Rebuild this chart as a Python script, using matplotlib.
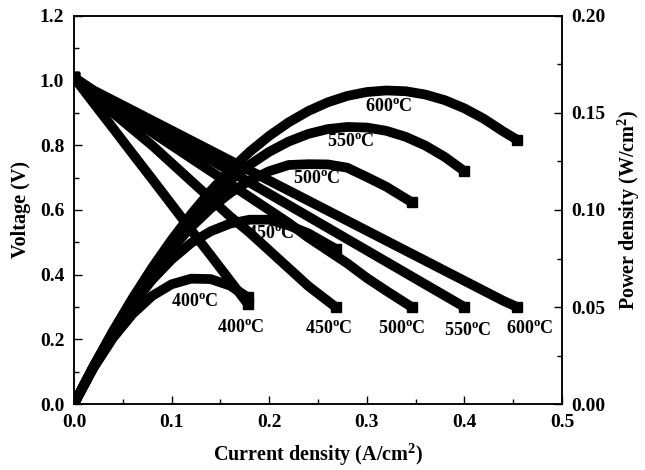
import matplotlib
matplotlib.use("Agg")

import matplotlib.pyplot as plt
from matplotlib.ticker import MultipleLocator, FormatStrFormatter

# ---------------------------------------------------------------
# Data (I-V and I-P curves)
# ---------------------------------------------------------------
i_400 = [0.0, 0.02, 0.04, 0.06, 0.08, 0.10, 0.12, 0.14, 0.16, 0.178]
v_400 = [1.01, 0.931, 0.853, 0.774, 0.696, 0.617, 0.538, 0.46, 0.381, 0.31]
p_400 = [0.0, 0.0186, 0.0341, 0.0464, 0.0557, 0.0617, 0.0646, 0.0644, 0.061, 0.055]

i_450 = [0.0, 0.02, 0.04, 0.06, 0.08, 0.10, 0.12, 0.14, 0.16, 0.18, 0.20, 0.22, 0.24, 0.268]
v_450 = [1.01, 0.95, 0.90, 0.85, 0.80, 0.745, 0.69, 0.635, 0.58, 0.53, 0.475, 0.42, 0.365, 0.30]
p_450 = [0.0, 0.019, 0.036, 0.051, 0.064, 0.0745, 0.083, 0.089, 0.093, 0.095, 0.095, 0.092, 0.088, 0.080]

i_500 = [0.0, 0.02, 0.04, 0.06, 0.08, 0.10, 0.12, 0.14, 0.16, 0.18, 0.20, 0.22, 0.24,
         0.26, 0.28, 0.30, 0.32, 0.346]
v_500 = [1.01, 0.96, 0.92, 0.88, 0.84, 0.80, 0.76, 0.72, 0.68, 0.64, 0.60, 0.56, 0.515,
         0.475, 0.435, 0.39, 0.35, 0.30]
p_500 = [0.0, 0.0192, 0.0368, 0.0528, 0.0672, 0.080, 0.0912, 0.1008, 0.1088, 0.1152, 0.120,
         0.1232, 0.1236, 0.1235, 0.1218, 0.117, 0.112, 0.104]

i_550 = [0.0, 0.02, 0.04, 0.06, 0.08, 0.10, 0.12, 0.14, 0.16, 0.18, 0.20, 0.22, 0.24,
         0.26, 0.28, 0.30, 0.32, 0.34, 0.36, 0.38, 0.40]
v_550 = [1.01, 0.965, 0.93, 0.895, 0.86, 0.825, 0.79, 0.755, 0.72, 0.685, 0.65, 0.615, 0.58,
         0.545, 0.51, 0.475, 0.44, 0.405, 0.37, 0.335, 0.30]
p_550 = [0.0, 0.0193, 0.0372, 0.0537, 0.0688, 0.0825, 0.0948, 0.1057, 0.1152, 0.1233, 0.130,
         0.1353, 0.1392, 0.1417, 0.1428, 0.1425, 0.1408, 0.1377, 0.1332, 0.1273, 0.120]

i_600 = [0.0, 0.02, 0.04, 0.06, 0.08, 0.10, 0.12, 0.14, 0.16, 0.18, 0.20, 0.22, 0.24,
         0.26, 0.28, 0.30, 0.32, 0.34, 0.36, 0.38, 0.40, 0.42, 0.44, 0.454]
v_600 = [1.01, 0.97, 0.939, 0.908, 0.877, 0.846, 0.815, 0.784, 0.753, 0.722, 0.691, 0.66, 0.629,
         0.598, 0.567, 0.536, 0.505, 0.474, 0.443, 0.412, 0.381, 0.35, 0.319, 0.30]
p_600 = [0.0, 0.0194, 0.0376, 0.0545, 0.0702, 0.0846, 0.0978, 0.1098, 0.1205, 0.130, 0.1382,
         0.1452, 0.151, 0.1555, 0.1588, 0.1608, 0.1616, 0.1612, 0.1595, 0.1566, 0.1524,
         0.147, 0.1404, 0.1362]

temps = ["400", "450", "500", "550", "600"]
currents = [i_400, i_450, i_500, i_550, i_600]
voltages = [v_400, v_450, v_500, v_550, v_600]
powers = [p_400, p_450, p_500, p_550, p_600]

# label positions in voltage-axis coordinates
v_label_pos = [(0.171, 0.238), (0.261, 0.232), (0.336, 0.232), (0.403, 0.226), (0.467, 0.232)]
p_label_pos = [(0.124, 0.318), (0.202, 0.526), (0.249, 0.696), (0.284, 0.813), (0.323, 0.919)]

plt.rcParams['font.family'] = ['Liberation Serif', 'DejaVu Serif']
plt.rcParams['font.weight'] = 'bold'
plt.rcParams['mathtext.fontset'] = 'custom'
plt.rcParams['mathtext.rm'] = 'Liberation Serif:bold'
plt.rcParams['mathtext.it'] = 'Liberation Serif:bold'
plt.rcParams['mathtext.bf'] = 'Liberation Serif:bold'

FS_TXT = 13
FS_TICK = 14
FS_LAB = 14.5
LW = 7

fig = plt.figure(figsize=(6.45, 4.70), dpi=100)
ax = fig.add_axes([0.1147, 0.1404, 0.7566, 0.8256])
ax2 = ax.twinx()

for i_arr, v_arr, p_arr in zip(currents, voltages, powers):
    ends = [0, len(i_arr) - 1]
    ax.plot(i_arr, v_arr, color='black', lw=LW, solid_capstyle='butt',
            solid_joinstyle='round', marker='s', markersize=7, markevery=ends, zorder=3)
    ax2.plot(i_arr, p_arr, color='black', lw=LW, solid_capstyle='butt',
             solid_joinstyle='round', marker='s', markersize=7, markevery=ends, zorder=3)

for t, (x, y) in zip(temps, v_label_pos):
    ax.text(x, y, t + r"$^{\rm o}$C", ha='center', va='center', fontsize=FS_TXT,
            fontweight='bold', zorder=1)
for t, (x, y) in zip(temps, p_label_pos):
    ax.text(x, y, t + r"$^{\rm o}$C", ha='center', va='center', fontsize=FS_TXT,
            fontweight='bold', zorder=1)

ax.set_xlim(0, 0.5)
ax.set_ylim(0, 1.2)
ax2.set_ylim(0, 0.20)

ax.xaxis.set_major_locator(MultipleLocator(0.1))
ax.xaxis.set_minor_locator(MultipleLocator(0.05))
ax.yaxis.set_major_locator(MultipleLocator(0.2))
ax.yaxis.set_minor_locator(MultipleLocator(0.1))
ax2.yaxis.set_major_locator(MultipleLocator(0.05))
ax2.yaxis.set_minor_locator(MultipleLocator(0.025))
ax.xaxis.set_major_formatter(FormatStrFormatter('%.1f'))
ax.yaxis.set_major_formatter(FormatStrFormatter('%.1f'))
ax2.yaxis.set_major_formatter(FormatStrFormatter('%.2f'))

for a in (ax, ax2):
    a.tick_params(which='major', direction='in', length=6, width=1, labelsize=FS_TICK, pad=7)
    a.tick_params(which='minor', direction='in', length=3.5, width=1)
    for s in a.spines.values():
        s.set_linewidth(1.1)
ax.tick_params(which='both', top=False, right=False)
ax2.tick_params(which='both', left=False)

ax.set_xlabel("Current density (A/cm$^2$)", fontsize=FS_LAB, fontweight='bold', labelpad=8)
ax.set_ylabel("Voltage (V)", fontsize=FS_LAB, fontweight='bold', labelpad=6)
ax2.set_ylabel("Power density (W/cm$^2$)", fontsize=FS_LAB, fontweight='bold', labelpad=7)

fig.savefig("out.png", dpi=100)
